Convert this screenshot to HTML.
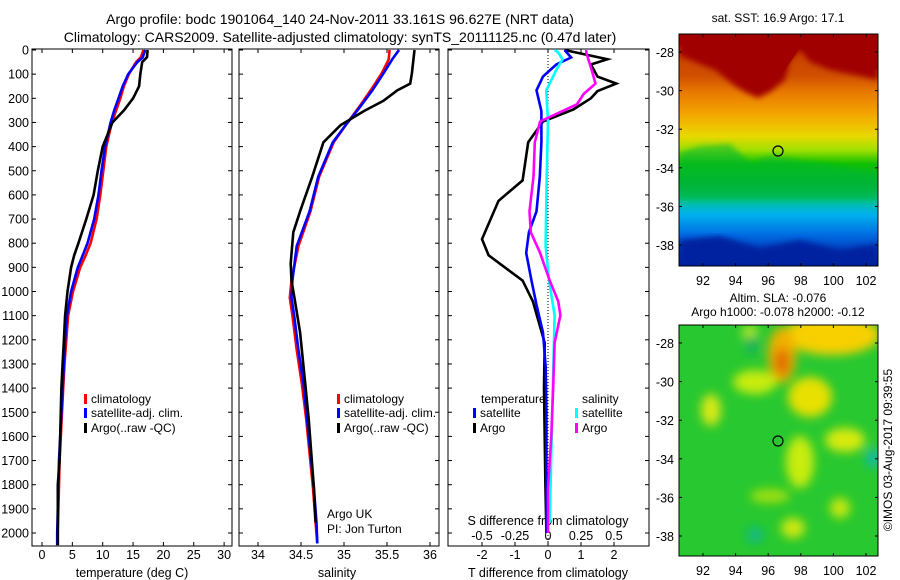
<!DOCTYPE html>
<html><head><meta charset="utf-8"><style>
body{margin:0;background:#fff;}
svg{display:block;font-family:"Liberation Sans",sans-serif;}
text{fill:#000;}
</style></head><body>
<svg id="s" width="900" height="580" viewBox="0 0 900 580" xmlns="http://www.w3.org/2000/svg">
<defs>
<linearGradient id="sstg" x1="0" y1="0" x2="0" y2="1">
<stop offset="0" stop-color="#c03000"/><stop offset="0.18" stop-color="#d05000"/>
<stop offset="0.25" stop-color="#e87800"/><stop offset="0.35" stop-color="#f4a800"/>
<stop offset="0.44" stop-color="#e8d800"/><stop offset="0.5" stop-color="#a0e000"/>
<stop offset="0.56" stop-color="#10c000"/><stop offset="0.65" stop-color="#00b040"/>
<stop offset="0.72" stop-color="#00c0a0"/><stop offset="0.78" stop-color="#00b0f0"/>
<stop offset="0.87" stop-color="#0068e0"/><stop offset="0.96" stop-color="#0030b0"/>
<stop offset="1" stop-color="#001890"/>
</linearGradient>
<filter id="bl"><feGaussianBlur stdDeviation="5"/></filter>
<filter id="bl2"><feGaussianBlur stdDeviation="3"/></filter>
<clipPath id="c1"><rect x="679" y="34" width="199" height="232"/></clipPath>
<clipPath id="c2"><rect x="679" y="325" width="199" height="231"/></clipPath>
</defs>
<text x="340" y="24" font-size="14" text-anchor="middle">Argo profile: bodc 1901064_140 24-Nov-2011 33.161S 96.627E (NRT data)</text>
<text x="340" y="42" font-size="14" text-anchor="middle">Climatology: CARS2009. Satellite-adjusted climatology: synTS_20111125.nc (0.47d later)</text>

<g id="p1"></g>
<g id="p2"></g>
<g id="p3"></g>

<!-- SST map -->
<g>
<text x="778" y="22" font-size="12" text-anchor="middle">sat. SST: 16.9 Argo: 17.1</text>
<g clip-path="url(#c1)">
<rect x="679" y="34" width="199" height="232" fill="url(#sstg)"/>
<path d="M679,34 H878 V80 L860,76 L830,70 L810,62 L800,50 L790,60 L785,80 L770,92 L758,98 L745,92 L735,86 L715,70 L695,62 L679,55 Z" fill="#a00000" filter="url(#bl2)"/>
<path d="M679,34 H878 V70 L850,65 L820,58 L800,48 L785,70 L765,88 L750,84 L730,70 L710,58 L690,48 L679,45Z" fill="#a00000"/>
<path d="M679,152 L700,146 L730,144 L750,162 L770,156 L800,160 L830,164 L878,174 V200 H679Z" fill="#00b830" opacity="0.6" filter="url(#bl2)"/>
<path d="M679,240 L720,236 L760,248 L800,240 L840,250 L878,244 V266 H679Z" fill="#0020a0" filter="url(#bl2)"/>
</g>
<rect x="679" y="34" width="199" height="232" fill="none" stroke="#000" stroke-width="1"/>
<circle cx="778" cy="151" r="5" fill="none" stroke="#000" stroke-width="1.2"/>
</g>

<!-- SLA map -->
<g>
<text x="778" y="302" font-size="12" text-anchor="middle">Altim. SLA: -0.076</text>
<text x="778" y="316" font-size="12" text-anchor="middle">Argo h1000: -0.078 h2000: -0.12</text>
<g clip-path="url(#c2)">
<rect x="679" y="325" width="199" height="231" fill="#28c830"/>
<g filter="url(#bl)">
<ellipse cx="832" cy="335" rx="48" ry="20" fill="#f8d000"/>
<ellipse cx="782" cy="355" rx="14" ry="28" fill="#f0b000"/>
<ellipse cx="782" cy="362" rx="8" ry="14" fill="#e07000"/>
<ellipse cx="755" cy="382" rx="22" ry="12" fill="#c8ec10"/>
<ellipse cx="810" cy="397" rx="22" ry="20" fill="#e8e000"/>
<ellipse cx="711" cy="410" rx="10" ry="16" fill="#d8e818"/>
<ellipse cx="845" cy="440" rx="20" ry="12" fill="#d8ea10"/>
<ellipse cx="800" cy="462" rx="14" ry="26" fill="#c8ec10"/>
<ellipse cx="770" cy="496" rx="20" ry="7" fill="#a0e010"/>
<ellipse cx="793" cy="528" rx="12" ry="10" fill="#d0e810"/>
<ellipse cx="840" cy="508" rx="10" ry="10" fill="#c8e810"/>
<ellipse cx="750" cy="333" rx="8" ry="8" fill="#b8e820"/>
<ellipse cx="755" cy="535" rx="8" ry="8" fill="#10b888"/>
<ellipse cx="873" cy="458" rx="6" ry="10" fill="#10b8b8"/>
<ellipse cx="752" cy="345" rx="6" ry="10" fill="#18b060"/>
</g>
</g>
<rect x="679" y="325" width="199" height="231" fill="none" stroke="#000" stroke-width="1"/>
<circle cx="778" cy="441" r="5" fill="none" stroke="#000" stroke-width="1.2"/>
<text transform="translate(892,450) rotate(-90)" font-size="12" text-anchor="middle">©IMOS 03-Aug-2017 09:39:55</text>
</g>
<g id="maxes"></g>
</svg>
<script>
// ---------- data ----------
const depthTicks=[0,100,200,300,400,500,600,700,800,900,1000,1100,1200,1300,1400,1500,1600,1700,1800,1900,2000];
const tempTicks=[0,5,10,15,20,25,30];
const salTicks=[34,34.5,35,35.5,36];
const tdiffTicks=[-2,-1,0,1,2];
const sdiffTicks=[-0.5,-0.25,0,0.25,0.5];
const sdiffTickLabels=["-0.5","-0.25","0","0.25","0.5"];
const lonTicks=[92,94,96,98,100,102];
const latTicks=[-28,-30,-32,-34,-36,-38];

const tDepth=[0,30,50,100,150,200,250,300,400,500,600,700,800,850,900,1000,1100,1200,1300,1400,1500,1600,1700,1800,1900,2000,2050];
const tClim=[16.7,16.3,15.5,14.3,13.5,12.9,12.2,11.5,10.6,10.1,9.6,9.0,8.0,7.2,6.3,5.1,4.3,4.0,3.7,3.5,3.3,3.1,2.9,2.8,2.7,2.6,2.6];
const tSat=[17.0,16.6,15.7,14.2,13.3,12.6,11.9,11.3,10.4,9.8,9.3,8.6,7.5,6.7,5.9,4.8,4.1,3.8,3.6,3.4,3.2,3.0,2.8,2.7,2.6,2.5,2.5];
const tArgo=[17.4,17.3,16.5,16.2,16.0,15.0,13.5,11.6,10.0,9.2,8.5,7.3,6.0,5.3,4.8,4.2,3.8,3.6,3.4,3.2,3.1,3.0,2.9,2.6,2.6,2.6,2.6];

const sDepth=[0,39,96,167,239,311,382,525,668,812,955,1026,1098,1241,1384,1528,1671,1814,1957,2043];
const sClim=[35.53,35.52,35.44,35.31,35.17,35.02,34.88,34.71,34.61,34.47,34.39,34.37,34.40,34.45,34.51,34.56,34.60,34.64,34.67,34.69];
const sSat=[35.64,35.56,35.46,35.33,35.18,35.02,34.87,34.70,34.60,34.45,34.40,34.39,34.42,34.47,34.53,34.57,34.61,34.65,34.68,34.69];
const sArgoDepth=[0,96,139,167,210,253,311,382,525,668,755,884,955,1040,1170,1384,1528,1671,1814,1957];
const sArgo=[35.82,35.79,35.77,35.62,35.46,35.23,34.96,34.76,34.63,34.49,34.41,34.38,34.39,34.43,34.49,34.55,34.59,34.62,34.65,34.67];

const dTDepth=[0,38,60,110,139,170,200,246,296,382,540,625,783,850,955,1040,1141,1213,1400,1600,1800,2000];
const dTArgo=[0.5,1.8,1.3,1.5,2.07,1.5,1.3,0.77,-0.15,-0.6,-0.77,-1.5,-2.0,-1.8,-0.77,-0.46,-0.25,-0.1,-0.12,-0.1,-0.08,-0.05];
const dTSatDepth=[0,31,60,110,167,253,382,525,668,755,840,955,1055,1170,1313,1500,1700,2000];
const dTSat=[0.5,0.7,0.25,-0.15,-0.35,-0.2,-0.2,-0.25,-0.35,-0.58,-0.66,-0.5,-0.35,-0.15,-0.07,-0.05,-0.05,-0.05];
const dSDepth=[0,10,39,82,167,296,525,812,955,1098,1313,1671,1957];
const dSSat=[0.05,0.077,0.11,0.064,-0.013,0,-0.01,-0.018,0.008,0.05,0.04,0.025,0.013];
const dSArgoDepth=[0,10,46,82,139,182,225,253,296,382,525,668,755,840,955,1040,1098,1213,1384,1599,1814,2000];
const dSArgo=[0.29,0.29,0.31,0.33,0.36,0.27,0.22,0.11,-0.06,-0.1,-0.11,-0.14,-0.13,-0.06,0.013,0.077,0.094,0.05,0.04,0.025,0,0];

// ---------- helpers ----------
const NS="http://www.w3.org/2000/svg";
function mk(tag,attrs,parent){const e=document.createElementNS(NS,tag);for(const k in attrs)e.setAttribute(k,attrs[k]);parent.appendChild(e);return e;}
const TOP=49,BOT=546;
function yD(d){return 50+d*0.2415;}
function poly(parent,xs,ds,xf,color,name){
  const pts=xs.map((v,i)=>xf(v).toFixed(1)+","+yD(ds[i]).toFixed(1)).join(" ");
  const p=mk("polyline",{points:pts,fill:"none",stroke:color,"stroke-width":2.6,"stroke-linejoin":"miter"},parent);
  
  
  return p;
}
function frame(parent,x0,x1,leftLabels){
  mk("rect",{x:x0,y:TOP,width:x1-x0,height:BOT-TOP,fill:"none",stroke:"#000","stroke-width":1},parent);
  depthTicks.forEach(d=>{
    const y=yD(d);
    mk("line",{x1:x0,x2:x0+4,y1:y,y2:y,stroke:"#000"},parent);
    mk("line",{x1:x1-4,x2:x1,y1:y,y2:y,stroke:"#000"},parent);
    if(leftLabels){const t=mk("text",{x:x0-3,y:y+4.5,"font-size":12.5,"text-anchor":"end"},parent);t.textContent=d;
      
      }
  });
}
function xticks(parent,ticks,labels,xf,y){
  ticks.forEach((v,i)=>{const x=xf(v);
    mk("line",{x1:x,x2:x,y1:BOT,y2:BOT-4,stroke:"#000"},parent);
    mk("line",{x1:x,x2:x,y1:TOP,y2:TOP+4,stroke:"#000"},parent);
    const t=mk("text",{x:x,y:y,"font-size":12.5,"text-anchor":"middle"},parent);t.textContent=labels[i];
    
    
  });
}
function label(parent,x,y,txt,name,size,anchor){const t=mk("text",{x:x,y:y,"font-size":size||12,"text-anchor":anchor||"start"},parent);t.textContent=txt;
  
  return t;}
function legendEntry(parent,x,y,color,txt,name){
  const r=mk("rect",{x:x,y:y-9,width:3,height:10,fill:color},parent);
  
  
  label(parent,x+7,y,txt,name);
}

// ---------- panel 1 ----------
const p1=document.getElementById("p1");
const xT=v=>42+v*6.07;
frame(p1,32,232,true);
xticks(p1,tempTicks,tempTicks.map(String),xT,559);
label(p1,132,577,"temperature (deg C)","temperature-axis-title",12.5,"middle");
poly(p1,tClim,tDepth,xT,"#ff0000","temp-climatology-line");
poly(p1,tSat,tDepth,xT,"#0000ff","temp-satellite-line");
poly(p1,tArgo,tDepth,xT,"#000000","temp-argo-line");
legendEntry(p1,84,403,"#ff0000","climatology","legend-climatology");
legendEntry(p1,84,417,"#0000ff","satellite-adj. clim.","legend-satellite");
legendEntry(p1,84,432,"#000000","Argo(..raw -QC)","legend-argo");

// ---------- panel 2 ----------
const p2=document.getElementById("p2");
const xS=v=>258+(v-34)*86;
frame(p2,239,439,false);
xticks(p2,salTicks,salTicks.map(String),xS,559);
label(p2,337,577,"salinity","salinity-axis-title",12.5,"middle");
poly(p2,sClim,sDepth,xS,"#ff0000","sal-climatology-line");
poly(p2,sSat,sDepth,xS,"#0000ff","sal-satellite-line");
poly(p2,sArgo,sArgoDepth,xS,"#000000","sal-argo-line");
legendEntry(p2,337,403,"#ff0000","climatology","legend-climatology-2");
legendEntry(p2,337,417,"#0000ff","satellite-adj. clim.","legend-satellite-2");
legendEntry(p2,337,432,"#000000","Argo(..raw -QC)","legend-argo-2");
label(p2,327,518,"Argo UK","argo-uk-label");
label(p2,327,533,"PI: Jon Turton","pi-label");

// ---------- panel 3 ----------
const p3=document.getElementById("p3");
const xDT=v=>548+v*33;
const xDS=v=>548+v*132;
frame(p3,448,649,false);
mk("line",{x1:548,x2:548,y1:TOP,y2:BOT,stroke:"#000","stroke-dasharray":"1,2"},p3);
xticks(p3,tdiffTicks,tdiffTicks.map(String),xDT,559);
label(p3,548,577,"T difference from climatology","tdiff-axis-title",12.5,"middle");
sdiffTicks.forEach((v,i)=>{const t=label(p3,xDS(v),540,sdiffTickLabels[i],"sdiff-tick-label",12.5,"middle");});
label(p3,548,525,"S difference from climatology","sdiff-axis-title",12.5,"middle");
poly(p3,dTArgo,dTDepth,xDT,"#000000","tdiff-argo-line");
poly(p3,dTSat,dTSatDepth,xDT,"#0000ff","tdiff-satellite-line");
poly(p3,dSSat,dSDepth,xDS,"#00ffff","sdiff-satellite-line");
poly(p3,dSArgo,dSArgoDepth,xDS,"#ff00ff","sdiff-argo-line");
label(p3,481,403,"temperature","legend-temperature-header");
legendEntry(p3,473,417,"#0000ff","satellite","legend-tdiff-satellite");
legendEntry(p3,473,432,"#000000","Argo","legend-tdiff-argo");
label(p3,582,403,"salinity","legend-salinity-header");
legendEntry(p3,575,417,"#00ffff","satellite","legend-sdiff-satellite");
legendEntry(p3,575,432,"#ff00ff","Argo","legend-sdiff-argo");

// ---------- map axes ----------
const ma=document.getElementById("maxes");
const xLon=v=>703+(v-92)*16.3;
[[34,266,52],[325,556,343]].forEach(([t,b,y28],mi)=>{
  lonTicks.forEach(v=>{const x=xLon(v);
    mk("line",{x1:x,x2:x,y1:b,y2:b-3,stroke:"#000"},ma);
    mk("line",{x1:x,x2:x,y1:t,y2:t+3,stroke:"#000"},ma);
    label(ma,x,b+19,String(v),"lon-tick-label",12.5,"middle");});
  latTicks.forEach(v=>{const y=y28+(-28-v)*19.3;
    mk("line",{x1:679,x2:682,y1:y,y2:y,stroke:"#000"},ma);
    mk("line",{x1:875,x2:878,y1:y,y2:y,stroke:"#000"},ma);
    label(ma,674,y+5,String(v),"lat-tick-label",12.5,"end");});
});
</script>
</body></html>
